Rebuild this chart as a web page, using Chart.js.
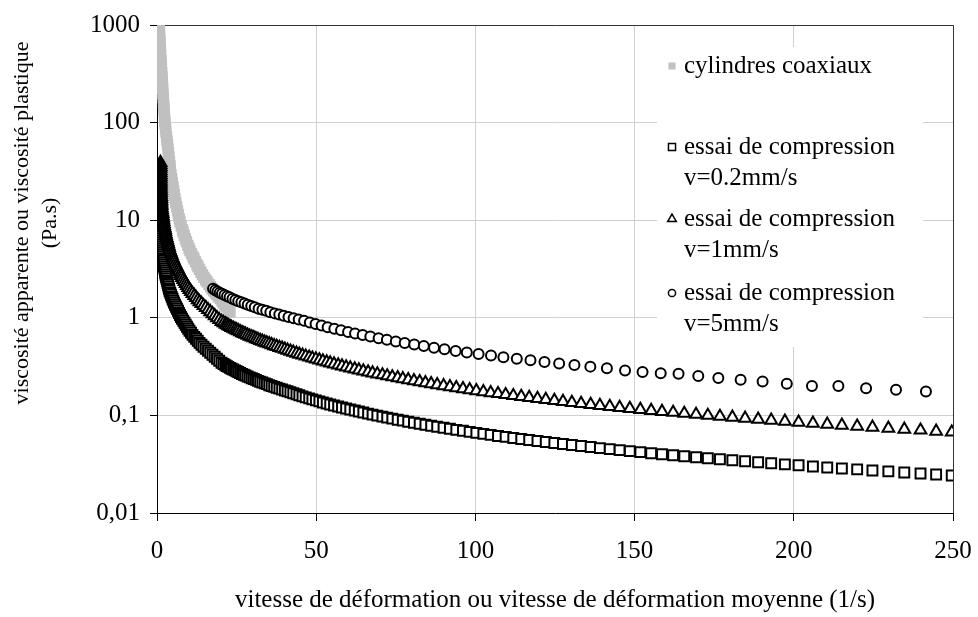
<!DOCTYPE html>
<html>
<head>
<meta charset="utf-8">
<script src="https://cdn.jsdelivr.net/npm/chart.js@4.4.1/dist/chart.umd.min.js"></script>
<style>
  html, body { margin: 0; padding: 0; background: #fff; }
  canvas { display: block; }
</style>
</head>
<body>
<canvas id="chart" width="978" height="617"></canvas>
<script>
// ---- data ----
const seriesNames = [
  ["cylindres coaxiaux"],
  ["essai de compression", "v=0.2mm/s"],
  ["essai de compression", "v=1mm/s"],
  ["essai de compression", "v=5mm/s"],
];
const xTitle = "vitesse de déformation ou vitesse de déformation moyenne (1/s)";
const yTitle = ["viscosité apparente ou viscosité plastique", "(Pa.s)"];
const xTicks = [0, 50, 100, 150, 200, 250];
const yTicks = [0.01, 0.1, 1, 10, 100, 1000];
const yTickLabels = ["0,01", "0,1", "1", "10", "100", "1000"];

// cylindres coaxiaux: [strain rate, viscosity]
const coaxPoints = [
  [0.63,1020],[0.69,936],[0.75,852],[0.82,775],[0.88,705],[0.94,642],[1.01,584],[1.10,531],[1.16,484],[1.26,430],
  [1.33,391],[1.41,356],[1.49,324],[1.57,295],[1.63,268],[1.73,244],[1.79,222],[1.88,197],[1.98,180],[2.04,163],
  [2.14,149],[2.20,138],[2.29,126],[2.36,115],[2.45,104],[2.51,97.2],[2.67,88.4],[2.80,80.5],[2.98,71.5],[3.14,65.1],
  [3.30,59.2],[3.45,53.9],[3.61,49.0],[3.74,44.6],[3.93,39.7],[4.08,36.1],[4.21,32.8],[4.40,29.2],[4.62,26.6],[4.81,24.2],
  [5.03,22.0],[5.25,20.0],[5.43,18.2],[5.65,16.6],[5.90,15.1],[6.19,13.7],[6.44,12.5],[6.72,11.4],[7.00,10.3],[7.22,9.63],
  [7.60,8.76],[7.98,7.97],[8.17,7.61],[8.54,7.00],[8.92,6.45],[9.26,6.01],[9.70,5.53],[10.05,5.15],[10.36,4.86],[10.84,4.53],
  [11.31,4.22],[11.62,4.02],[12.09,3.75],[12.56,3.49],[12.88,3.33],[13.35,3.14],[13.82,2.93],[14.29,2.76],[14.76,2.60],[15.30,2.45],
  [15.70,2.34],[16.33,2.20],[16.83,2.08],[17.27,1.98],[17.81,1.89],[18.31,1.80],[18.84,1.72],[19.38,1.64],[19.88,1.57],[20.41,1.49],
  [20.82,1.42],[21.26,1.36],[21.67,1.30],[22.30,1.22],[22.93,1.15]
];

// compression tests, start of the runs: [strain rate, viscosity]
const slowHead = [
  [0.31,32.1],[0.31,30.6],[0.31,29.2],[0.31,27.9],[0.31,26.6],[0.31,25.4],[0.31,24.2],[0.31,23.1],[0.31,22.0],[0.31,21.0],
  [0.31,20.0],[0.31,19.1],[0.31,18.2],[0.31,17.4],[0.31,16.6],[0.39,15.8],[0.47,15.1],[0.47,14.4],[0.47,13.7],[0.47,13.1],
  [0.47,12.5],[0.55,11.9],[0.63,11.4],[0.63,10.9],[0.63,10.3],[0.63,9.86],[0.63,9.40],[0.71,8.97],[0.79,8.56],[0.87,8.17],
  [0.94,7.79],[0.94,7.43],[0.94,7.09],[1.02,6.77],[1.10,6.45],[1.18,6.16],[1.26,5.87],[1.33,5.60],[1.41,5.34],[1.49,5.09],
  [1.57,4.86],[1.65,4.64],[1.73,4.42],[1.80,4.22],[1.88,4.02],[1.96,3.84],[2.04,3.66],[2.12,3.49],[2.20,3.33],[2.35,3.18],
  [2.51,3.03],[2.59,2.89],[2.67,2.76],[2.82,2.63],[2.98,2.51],[3.14,2.39],[3.30,2.28],[3.45,2.18],[3.61,2.08],[3.77,1.98],
  [3.93,1.89],[4.16,1.80],[4.40,1.72],[4.63,1.64],[4.87,1.57],[5.10,1.50],[5.34,1.43],[5.65,1.36],[5.97,1.30],[6.28,1.24],
  [6.60,1.18],[6.91,1.12],[7.22,1.07],[7.53,1.02],[7.85,0.977],[8.24,0.932],[8.64,0.889],[9.03,0.848],[9.42,0.809],[9.81,0.772],
  [10.21,0.736],[10.68,0.702],[11.15,0.669],[11.70,0.638],[12.25,0.609],[12.80,0.581],[13.35,0.554],[13.97,0.529],[14.60,0.505],[15.31,0.481],
  [16.02,0.459],[16.72,0.438],[17.43,0.418],[18.13,0.399],[18.84,0.380],[19.55,0.363],[20.26,0.346]
];
const mediumHead = [
  [1.10,39.0],[1.10,37.2],[1.10,35.5],[1.10,33.9],[1.10,32.3],[1.12,30.8],[1.12,29.4],[1.13,28.1],[1.13,26.8],[1.14,25.6],
  [1.15,24.4],[1.16,23.3],[1.17,22.2],[1.19,21.2],[1.22,20.2],[1.25,19.3],[1.28,18.4],[1.31,17.5],[1.34,16.7],[1.36,16.0],
  [1.38,15.3],[1.40,14.6],[1.41,14.1],[1.49,13.4],[1.57,12.8],[1.65,12.2],[1.73,11.7],[1.80,11.1],[1.88,10.6],[1.96,10.1],
  [2.04,9.66],[2.12,9.21],[2.20,8.79],[2.35,8.39],[2.51,8.00],[2.59,7.64],[2.67,7.29],[2.82,6.95],[2.98,6.63],[3.14,6.32],
  [3.30,6.02],[3.45,5.75],[3.61,5.49],[3.77,5.23],[3.93,4.99],[4.16,4.76],[4.40,4.54],[4.63,4.34],[4.87,4.14],[5.10,3.96],
  [5.34,3.78],[5.65,3.60],[5.97,3.43],[6.28,3.27],[6.60,3.12],[6.91,2.97],[7.22,2.82],[7.53,2.70],[7.85,2.58],[8.24,2.46],
  [8.64,2.35],[9.03,2.24],[9.42,2.14],[9.81,2.04],[10.21,1.94],[10.68,1.85],[11.15,1.77],[11.70,1.69],[12.25,1.61],[12.80,1.53],
  [13.35,1.46],[13.97,1.40],[14.60,1.33],[15.31,1.27],[16.02,1.21],[16.72,1.15],[17.43,1.10],[18.13,1.05],[18.84,1.00],[19.55,0.956],
  [20.26,0.913]
];

// compression tests, rest of the runs (shared strain rates)
const compressionRate = [
  20.9, 21.5, 21.95, 22.4, 22.9, 23.4, 23.95, 24.5, 25.0, 25.5,
  26.1, 26.7, 27.25, 27.8, 28.45, 29.1, 29.75, 30.4, 31.05, 31.7,
  32.4, 33.1, 33.8, 34.5, 35.25, 36.0, 36.8, 37.6, 38.45, 39.3,
  40.15, 41.0, 41.9, 42.8, 43.8, 44.7,
  45.7, 46.7, 47.8, 48.8, 49.9, 51.0, 52.1, 53.3, 54.4, 55.6,
  56.9, 58.1, 59.4, 60.7, 62.1, 63.4, 64.8, 66.3, 67.7, 69.2,
  70.8, 72.3, 73.9, 75.6, 77.2, 78.9, 80.7, 82.5, 84.3, 86.1,
  88.0, 90.0, 92.0, 94.0, 96.1, 98.2, 100.3, 102.5, 104.8, 107.1,
  109.5, 111.9, 114.4, 116.9, 119.5, 122.1, 124.8, 127.5, 130.3, 133.2,
  136.2, 139.1, 142.2, 145.3, 148.5, 151.8, 155.2, 158.6, 162.1, 165.6,
  169.3, 173.0, 176.8, 180.7, 184.7, 188.8, 192.9, 197.2, 201.5, 206.0,
  210.5, 215.1, 219.9, 224.7, 229.7, 234.7, 239.8, 244.7, 249.6
];
const slowVisc = [
  0.336, 0.327, 0.320, 0.314, 0.307, 0.301, 0.295, 0.289, 0.283, 0.278,
  0.272, 0.266, 0.261, 0.256, 0.250, 0.245, 0.240, 0.236, 0.231, 0.226,
  0.221, 0.217, 0.213, 0.209, 0.204, 0.200, 0.196, 0.192, 0.188, 0.184,
  0.180, 0.1767, 0.1725, 0.1684, 0.1645, 0.1606,
  0.1568, 0.1531, 0.1494, 0.1459, 0.1425, 0.1391, 0.1358, 0.1326, 0.1295, 0.1264,
  0.1234, 0.1205, 0.1176, 0.1148, 0.1121, 0.1095, 0.1069, 0.1044, 0.1019, 0.0995,
  0.0971, 0.0948, 0.0926, 0.0904, 0.0883, 0.0862, 0.0841, 0.0821, 0.0802, 0.0783,
  0.0764, 0.0746, 0.0729, 0.0711, 0.0695, 0.0678, 0.0662, 0.0646, 0.0631, 0.0616,
  0.0602, 0.0587, 0.0573, 0.0560, 0.0547, 0.0534, 0.0521, 0.0509, 0.0497, 0.0485,
  0.0474, 0.0462, 0.0451, 0.0441, 0.0430, 0.0420, 0.0410, 0.0400, 0.0391, 0.0382,
  0.0373, 0.0364, 0.0355, 0.0347, 0.0339, 0.0331, 0.0323, 0.0315, 0.0308, 0.0300,
  0.0293, 0.0286, 0.0280, 0.0273, 0.0267, 0.0260, 0.0254, 0.0248, 0.0242
];
const mediumVisc = [
  0.888, 0.863, 0.846, 0.829, 0.812, 0.795, 0.779, 0.763, 0.748, 0.734,
  0.718, 0.702, 0.689, 0.676, 0.661, 0.647, 0.635, 0.623, 0.610, 0.597,
  0.585, 0.573, 0.562, 0.552, 0.540, 0.528, 0.517, 0.507, 0.496, 0.486,
  0.475, 0.4646, 0.4539, 0.4435, 0.4333, 0.4233,
  0.4136, 0.4041, 0.3948, 0.3857, 0.3768, 0.3681, 0.3596, 0.3514, 0.3433, 0.3354,
  0.3277, 0.3201, 0.3128, 0.3056, 0.2985, 0.2917, 0.2850, 0.2784, 0.2720, 0.2657,
  0.2596, 0.2536, 0.2478, 0.2421, 0.2365, 0.2311, 0.2258, 0.2206, 0.2155, 0.2105,
  0.2057, 0.2010, 0.1963, 0.1918, 0.1874, 0.1831, 0.1789, 0.1748, 0.1707, 0.1668,
  0.1630, 0.1592, 0.1556, 0.1520, 0.1485, 0.1451, 0.1417, 0.1385, 0.1353, 0.1322,
  0.1291, 0.1261, 0.1232, 0.1204, 0.1176, 0.1149, 0.1123, 0.1097, 0.1072, 0.1047,
  0.1023, 0.0999, 0.0976, 0.0954, 0.0932, 0.0910, 0.0889, 0.0869, 0.0849, 0.0829,
  0.0810, 0.0792, 0.0773, 0.0756, 0.0738, 0.0721, 0.0705, 0.0688, 0.0673
];

// v=5mm/s
const fastRate = [
  17.6, 18.3, 19.0, 19.7, 20.4, 21.2, 22.0, 22.8, 23.7, 24.6,
  25.5, 26.5, 27.5, 28.5, 29.6, 30.7, 31.9, 33.1, 34.3, 35.6,
  37.0, 38.4, 39.8, 41.3, 42.9, 44.5, 46.2, 48.0, 49.8, 51.7,
  53.6, 55.7, 57.8, 60.0, 62.2, 64.6, 67.0, 69.6, 72.2, 75.0,
  77.8, 80.8, 83.8, 87.0, 90.3, 93.8, 97.3, 101.0, 104.9, 108.8,
  113.0, 117.3, 121.7, 126.3, 131.1, 136.1, 141.3, 147.0, 152.5, 158.2,
  163.8, 170.0, 176.3, 183.3, 190.2, 197.8, 205.7, 214.0, 222.7, 232.1,
  241.5
];
const fastVisc = [
  1.98, 1.92, 1.86, 1.81, 1.76, 1.71, 1.66, 1.62, 1.57, 1.52,
  1.48, 1.44, 1.40, 1.36, 1.32, 1.28, 1.24, 1.21, 1.18, 1.14,
  1.11, 1.08, 1.05, 1.02, 0.99, 0.96, 0.931, 0.896, 0.863, 0.832,
  0.802, 0.772, 0.744, 0.717, 0.691, 0.666, 0.642, 0.618, 0.596, 0.573,
  0.553, 0.532, 0.513, 0.494, 0.476, 0.458, 0.442, 0.426, 0.410, 0.395,
  0.381, 0.367, 0.353, 0.340, 0.328, 0.316, 0.304, 0.288, 0.278, 0.271,
  0.267, 0.253, 0.241, 0.232, 0.222, 0.211, 0.200, 0.200, 0.190, 0.183,
  0.176
];

// ---- chart ----
const FONT = "'Liberation Serif', 'Times New Roman', serif";
const TICK_SIZE = 25;
const TEXT_SIZE = 25;
const Y_TITLE_SIZE = 22;

const toPoints = (pairs) => pairs.map(([x, y]) => ({ x, y }));
const zipPoints = (xs, ys) => xs.map((x, i) => ({ x, y: ys[i] }));

const coaxData = toPoints(coaxPoints);
const slowData = toPoints(slowHead).concat(zipPoints(compressionRate, slowVisc));
const mediumData = toPoints(mediumHead).concat(zipPoints(compressionRate, mediumVisc));
const fastData = zipPoints(fastRate, fastVisc);

const marker = (style, radius) => ({
  showLine: false,
  pointStyle: style,
  pointRadius: radius,
  pointHoverRadius: radius,
  pointBackgroundColor: "#fff",
  pointBorderColor: "#000",
  pointBorderWidth: 2,
});

// white legend box, plot frame and axis titles
const decorations = {
  id: "decorations",
  beforeDatasetsDraw(chart) {
    const { ctx, chartArea: a } = chart;
    ctx.save();
    ctx.strokeStyle = "#333";
    ctx.lineWidth = 1;
    ctx.beginPath();
    ctx.moveTo(a.left, a.top + 0.5);
    ctx.lineTo(a.right + 0.5, a.top + 0.5);
    ctx.lineTo(a.right + 0.5, a.bottom);
    ctx.stroke();
    ctx.restore();
  },
  afterDraw(chart) {
    const { ctx } = chart;
    ctx.save();
    // legend
    ctx.fillStyle = "#fff";
    ctx.fillRect(657, 47, 266, 300);
    ctx.font = `${TEXT_SIZE}px ${FONT}`;
    ctx.textBaseline = "middle";
    ctx.textAlign = "left";
    const rows = [66, 147, 219, 293];
    const styles = ["rect", "rect", "triangle", "circle"];
    rows.forEach((y, i) => {
      ctx.fillStyle = "#000";
      seriesNames[i].forEach((line, j) => ctx.fillText(line, 684, y + j * 31));
      const filled = i === 0;
      ctx.fillStyle = filled ? "#c0c0c0" : "#fff";
      ctx.strokeStyle = filled ? "#c0c0c0" : "#000";
      ctx.lineWidth = filled ? 0.01 : 1.5;
      Chart.helpers.drawPoint(
        ctx,
        {
          pointStyle: styles[i],
          radius: styles[i] === "circle" ? 3.6 : 5,
          borderWidth: filled ? 0 : 1.5,
        },
        672,
        y
      );
    });
    // axis titles
    ctx.fillStyle = "#000";
    ctx.textAlign = "center";
    ctx.fillText(xTitle, 555, 600);
    ctx.font = `${Y_TITLE_SIZE}px ${FONT}`;
    ctx.translate(22, 223);
    ctx.rotate(-Math.PI / 2);
    ctx.fillText(yTitle[0], 0, 0);
    ctx.fillText(yTitle[1], 0, 28);
    ctx.restore();
  },
};

new Chart(document.getElementById("chart"), {
  type: "scatter",
  data: {
    datasets: [
      { label: seriesNames[3].join(" "), data: fastData, order: 0, ...marker("circle", 5) },
      { label: seriesNames[2].join(" "), data: mediumData, order: 1, ...marker("triangle", 6.8) },
      { label: seriesNames[1].join(" "), data: slowData, order: 2, ...marker("rect", 7) },
      {
        label: seriesNames[0][0],
        data: coaxData,
        order: 3,
        showLine: false,
        pointStyle: "rect",
        pointRadius: 8,
        pointHoverRadius: 8,
        pointBackgroundColor: "#c0c0c0",
        pointBorderColor: "#c0c0c0",
        pointBorderWidth: 0,
      },
    ],
  },
  options: {
    responsive: false,
    animation: false,
    events: [],
    devicePixelRatio: 1,
    layout: { padding: { left: 0, right: 25, top: 25, bottom: 0 } },
    plugins: { legend: { display: false }, tooltip: { enabled: false } },
    scales: {
      x: {
        type: "linear",
        min: 0,
        max: 250,
        afterFit: (scale) => {
          scale.height = 104;
          scale.paddingLeft = 0;
          scale.paddingRight = 0;
        },
        afterBuildTicks: (scale) => { scale.ticks = xTicks.map((value) => ({ value })); },
        grid: { color: "#d0d0d0", tickColor: "#000", tickLength: 8, lineWidth: 1 },
        border: { color: "#000", width: 1 },
        ticks: {
          color: "#000",
          padding: 15,
          maxRotation: 0,
          font: { family: FONT, size: TICK_SIZE },
        },
      },
      y: {
        type: "logarithmic",
        min: 0.01,
        max: 1000,
        afterFit: (scale) => {
          scale.width = 157;
          scale.paddingTop = 0;
          scale.paddingBottom = 0;
        },
        afterBuildTicks: (scale) => { scale.ticks = yTicks.map((value) => ({ value })); },
        grid: { color: "#d0d0d0", tickColor: "#000", tickLength: 7, lineWidth: 1 },
        border: { color: "#000", width: 1 },
        ticks: {
          color: "#000",
          padding: 10,
          autoSkip: false,
          font: { family: FONT, size: TICK_SIZE },
          callback: (value) => {
            const i = yTicks.findIndex((t) => Math.abs(t - value) / t < 1e-6);
            return i >= 0 ? yTickLabels[i] : "";
          },
        },
      },
    },
  },
  plugins: [decorations],
});
</script>
</body>
</html>
